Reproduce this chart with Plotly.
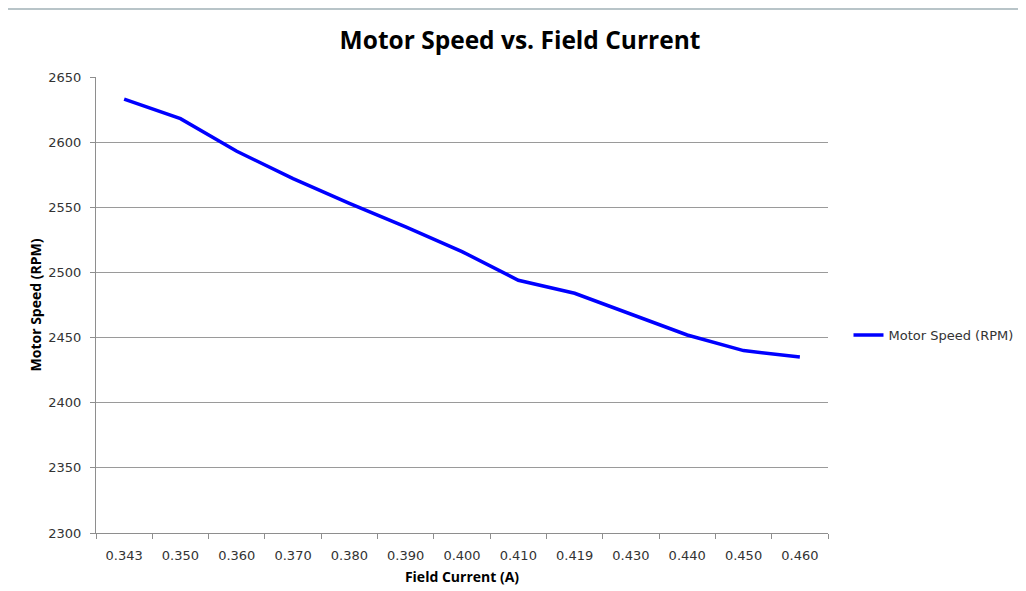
import plotly.graph_objects as go

field_current = ["0.343", "0.350", "0.360", "0.370", "0.380", "0.390", "0.400",
                 "0.410", "0.419", "0.430", "0.440", "0.450", "0.460"]
motor_speed = [2633, 2618, 2593, 2572, 2553, 2535, 2516, 2494, 2484, 2468, 2452, 2440, 2435]

TICKFONT = "'DejaVu Sans', sans-serif"
TITLEFONT = "'Open Sans', sans-serif"

W, H = 1018, 583          # page body has an 8px margin
L, R, T, B = 88, 198, 69, 58
PW, PH = W - L - R, H - T - B

fig = go.Figure()
fig.add_trace(go.Scatter(
    x=field_current, y=motor_speed, mode="lines", name="Motor Speed (RPM)",
    line=dict(color="#0000FF", width=3.5),
))

fig.update_layout(
    width=W, height=H,
    paper_bgcolor="white", plot_bgcolor="white",
    margin=dict(l=L, r=R, t=T, b=B, autoexpand=False),
    font=dict(family=TICKFONT, size=13, color="#333333"),
    title=dict(text="<b>Motor Speed vs. Field Current</b>", x=512 / W, xref="container",
               xanchor="center", y=1 - 32 / H, yanchor="middle",
               font=dict(family=TITLEFONT, size=24.5, color="#000000")),
    showlegend=True,
    legend=dict(x=1.028, xanchor="left", y=0.434, yanchor="middle",
                font=dict(family=TICKFONT, size=13, color="#333333"),
                bgcolor="rgba(0,0,0,0)", itemwidth=30),
    xaxis=dict(type="category", range=[-0.5, 12.5], showgrid=False, showline=True,
               linecolor="#8E8E8E", linewidth=1, ticks="outside", tickson="boundaries",
               ticklen=5, tickcolor="#8E8E8E", ticklabelstandoff=10,
               tickfont=dict(family=TICKFONT, size=13, color="#333333"),
               automargin=False,
               title=dict(text="<b>Field Current (A)</b>", standoff=10,
                          font=dict(family=TITLEFONT, size=14, color="#000000"))),
    yaxis=dict(range=[2300, 2650], dtick=50, showgrid=True, gridcolor="#9A9A9A",
               gridwidth=1, showline=True, linecolor="#8E8E8E", linewidth=1,
               ticks="outside", ticklen=5, tickcolor="#8E8E8E", zeroline=False,
               ticklabelstandoff=6, automargin=False,
               tickfont=dict(family=TICKFONT, size=13, color="#333333"),
               title=dict(text="<b>Motor Speed (RPM)</b>", standoff=3,
                          font=dict(family=TITLEFONT, size=14, color="#000000"))),
)
fig.add_shape(type="line", xref="paper", yref="paper", x0=-L / PW, x1=(W - L) / PW,
              y0=1 + (T - 1) / PH, y1=1 + (T - 1) / PH,
              line=dict(color="#B8C4C8", width=2))
fig.write_html("out.html")
